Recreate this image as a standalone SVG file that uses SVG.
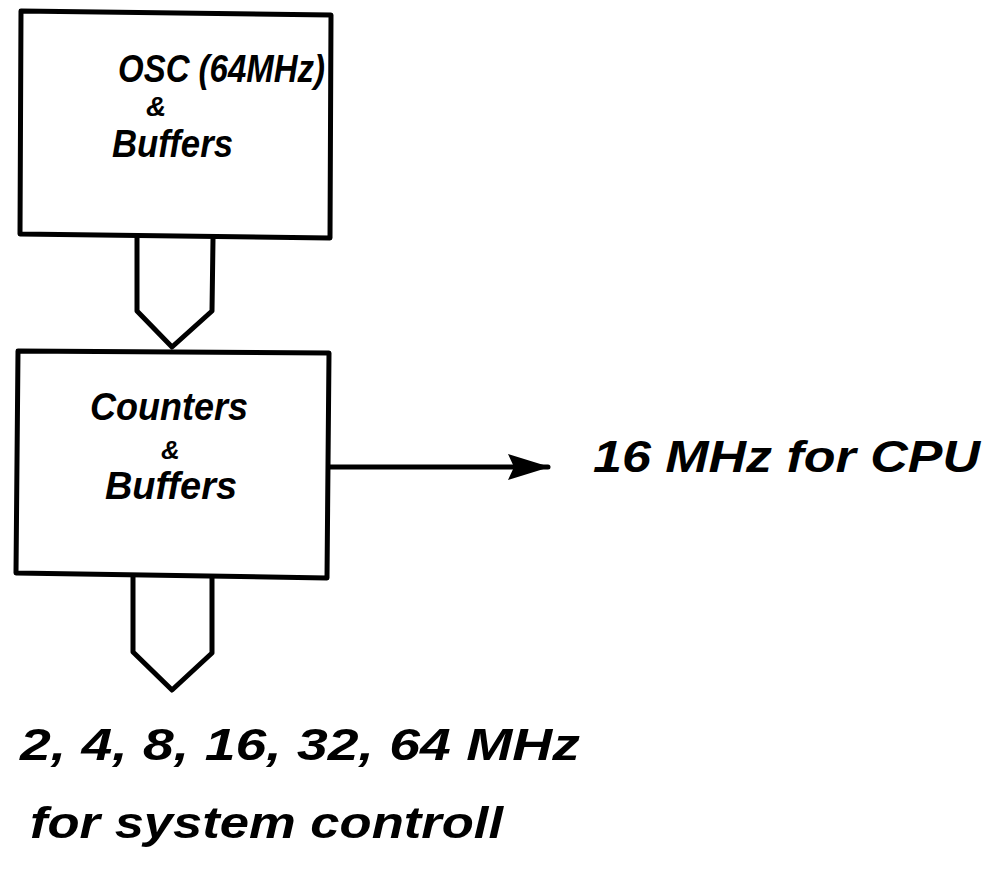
<svg xmlns="http://www.w3.org/2000/svg" width="1001" height="875" viewBox="0 0 1001 875">
  <style>
    .ln { fill: none; stroke: #000; stroke-width: 5; stroke-linejoin: round; stroke-linecap: round; }
    .box { fill: #fff; stroke: #000; stroke-width: 5; stroke-linejoin: round; }
    .t { font-family: "Liberation Sans", Arial, sans-serif; font-weight: bold; font-style: italic; fill: #000; }
  </style>
  <defs>
    <marker id="ah" viewBox="0 0 44 28" refX="40" refY="14" markerWidth="44" markerHeight="28" markerUnits="userSpaceOnUse" orient="auto">
      <path d="M0,1 L42,14 L0,27 L6,14 Z" fill="#000"/>
    </marker>
  </defs>
  <rect width="1001" height="875" fill="#fff"/>

  <g id="osc">
    <path class="box" d="M21,11 L331,15 L330,238 L20,234 Z"/>
    <text class="t" x="118" y="82" font-size="38" textLength="207" lengthAdjust="spacingAndGlyphs">OSC (64MHz)</text>
    <text class="t" x="146" y="116" font-size="28">&amp;</text>
    <text class="t" x="112" y="157" font-size="38" textLength="121" lengthAdjust="spacingAndGlyphs">Buffers</text>
  </g>

  <g id="counters">
    <path class="box" d="M18,351 L329,353 L327,578 L16,573 Z"/>
    <text class="t" x="90" y="420" font-size="38" textLength="158" lengthAdjust="spacingAndGlyphs">Counters</text>
    <text class="t" x="161" y="459" font-size="26">&amp;</text>
    <text class="t" x="105" y="499" font-size="38" textLength="132" lengthAdjust="spacingAndGlyphs">Buffers</text>
  </g>

  <g id="connectors">
    <path class="ln" d="M137,237 L137,311 L172,347 L212,311 L213,239"/>
    <path class="ln" d="M133,577 L133,652 L172,690 L212,653 L212,578"/>
    <path class="ln" d="M329,467 L548,467" stroke-width="6" marker-end="url(#ah)"/>
  </g>

  <g id="cpu-label">
    <text class="t" x="593" y="472" font-size="44" textLength="387" lengthAdjust="spacingAndGlyphs">16 MHz for CPU</text>
  </g>

  <g id="system-label">
    <text class="t" x="20" y="760" font-size="44" textLength="560" lengthAdjust="spacingAndGlyphs">2, 4, 8, 16, 32, 64 MHz</text>
    <text class="t" x="30" y="838" font-size="44" textLength="473" lengthAdjust="spacingAndGlyphs">for system controll</text>
  </g>
</svg>
